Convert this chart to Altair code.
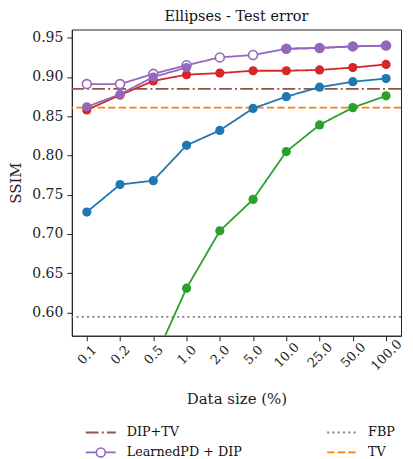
import altair as alt
import pandas as pd

sizes = ["0.1", "0.2", "0.5", "1.0", "2.0", "5.0", "10.0", "25.0", "50.0", "100.0"]

blue_vals = [0.728, 0.763, 0.768, 0.813, 0.832, 0.860, 0.875, 0.887, 0.894, 0.898]
green_vals = [0.420, 0.470, 0.537, 0.631, 0.704, 0.744, 0.805, 0.839, 0.861, 0.876]
red_vals = [0.858, 0.877, 0.895, 0.903, 0.905, 0.908, 0.908, 0.909, 0.912, 0.916]
hollow_vals = [0.891, 0.891, 0.904, 0.915, 0.925, 0.928, 0.936, 0.937, 0.939, 0.940]
filled_vals = [0.862, 0.878, 0.900, 0.912, None, None, 0.936, 0.937, 0.939, 0.940]

ref_names = ["DIP+TV", "FBP", "TV"]
ref_vals = [0.885, 0.5945, 0.861]

methods = ["DIP+TV", "FBP", "LearnedPD + DIP", "TV",
           "FBPUNet", "iRadonMap", "LearnedPD", "LearnedPD + DIP (filled)"]
colors = ["#8c564b", "#7f7f7f", "#9467bd", "#ff7f0e",
          "#1f77b4", "#2ca02c", "#d62728", "#9467bd"]
dashes = [[12.8, 3.2, 2, 3.2], [2, 3.3], [1, 0], [7.4, 3.2],
          [1, 0], [1, 0], [1, 0], [1, 0]]

legend_labels = ["DIP+TV", "LearnedPD + DIP", "FBP", "TV"]
legend_cols = ["c1", "c1", "c2", "c2"]
legend_rows = ["r1", "r2", "r1", "r2"]

FONT = "DejaVu Serif"

rows = []
for name, vals in [("FBPUNet", blue_vals), ("iRadonMap", green_vals),
                   ("LearnedPD", red_vals), ("LearnedPD + DIP", hollow_vals)]:
    for s, v in zip(sizes, vals):
        rows.append({"method": name, "size": s, "ssim": v, "seg": "a"})
for i, (s, v) in enumerate(zip(sizes, filled_vals)):
    if v is not None:
        rows.append({"method": "LearnedPD + DIP (filled)", "size": s, "ssim": v,
                     "seg": "a" if i < 4 else "b"})
df = pd.DataFrame(rows)
refdf = pd.DataFrame({"method": ref_names, "ssim": ref_vals})
legdf = pd.DataFrame({"method": legend_labels, "col": legend_cols, "row": legend_rows})

ydom = [0.5704, 0.9605]
x = alt.X("size:O", sort=sizes, scale=alt.Scale(type="point", padding=0.45),
          axis=alt.Axis(title="Data size (%)", labelAngle=-45, labelAlign="center",
                        labelBaseline="middle", labelPadding=14, titlePadding=19,
                        labelFontSize=13))
y = alt.Y("ssim:Q", scale=alt.Scale(domain=ydom, nice=False, zero=False),
          axis=alt.Axis(title="SSIM", values=[0.60, 0.65, 0.70, 0.75, 0.80, 0.85, 0.90, 0.95],
                        format=".2f", titlePadding=8))

color = alt.Color("method:N", scale=alt.Scale(domain=methods, range=colors), legend=None)
dash = alt.StrokeDash("method:N", scale=alt.Scale(domain=methods, range=dashes), legend=None)

base = alt.Chart(df)

def series(name, hollow=False):
    d = base.transform_filter(alt.datum.method == name)
    line = d.mark_line(strokeWidth=1.8, clip=True).encode(x=x, y=y, color=color, strokeDash=dash,
                                                          detail="seg:N")
    if hollow:
        pts = d.mark_point(filled=False, size=80, strokeWidth=1.6, fill="white", fillOpacity=1,
                           opacity=1, clip=True).encode(x=x, y=y, color=color)
    else:
        pts = d.mark_circle(size=85, opacity=1, clip=True).encode(x=x, y=y, color=color)
    return [line, pts]

rules = alt.Chart(refdf).mark_rule(strokeWidth=1.8).encode(y=y, color=color, strokeDash=dash)

layers = [rules]
layers += series("LearnedPD + DIP", hollow=True)
layers += series("FBPUNet")
layers += series("iRadonMap")
layers += series("LearnedPD")
layers += series("LearnedPD + DIP (filled)")

main = alt.layer(*layers).properties(
    width=330, height=307,
    title=alt.TitleParams("Ellipses - Test error", offset=5, frame="group"),
    view=alt.ViewBackground(stroke="#222", strokeWidth=1),
)

# legend drawn as its own small panel
lx = alt.X("col:O", scale=alt.Scale(type="point", padding=0.058), axis=None)
ly = alt.Y("row:O", scale=alt.Scale(type="point", padding=0), axis=None)
lcolor = alt.Color("method:N", scale=alt.Scale(domain=methods, range=colors), legend=None)
ldash = alt.StrokeDash("method:N", scale=alt.Scale(domain=methods, range=dashes), legend=None)
lbase = alt.Chart(legdf)
leg_lines = lbase.mark_rule(strokeWidth=1.8, x2Offset=30).encode(
    x=lx, x2="col:O", y=ly, color=lcolor, strokeDash=ldash)
leg_pts = lbase.transform_filter(alt.datum.method == "LearnedPD + DIP").mark_point(
    filled=False, size=80, strokeWidth=1.6, fill="white", fillOpacity=1, opacity=1, xOffset=15
).encode(x=lx, y=ly, color=lcolor)
leg_text = lbase.mark_text(align="left", baseline="middle", dx=41, font=FONT, fontSize=12.8,
                           color="#111").encode(x=lx, y=ly, text="method:N")
legend = alt.layer(leg_lines, leg_pts, leg_text).properties(
    width=270, height=20, view=alt.ViewBackground(stroke=None))

chart = alt.vconcat(main, legend, spacing=19).properties(
    padding={"left": 0, "top": 0, "right": 0, "bottom": 0},
).configure(background="white").configure_view(stroke=None).configure_axis(
    labelFont=FONT, labelFontSize=14, labelColor="#222", titleFont=FONT, titleFontSize=15,
    titleFontWeight="normal", titleColor="#222", domainColor="#222", tickColor="#222",
    tickSize=5, grid=False, labelPadding=4,
).configure_title(
    font=FONT, fontSize=14.5, fontWeight="normal", color="#111",
)

chart.save("out.html", embed_options={"renderer": "svg", "actions": False})
